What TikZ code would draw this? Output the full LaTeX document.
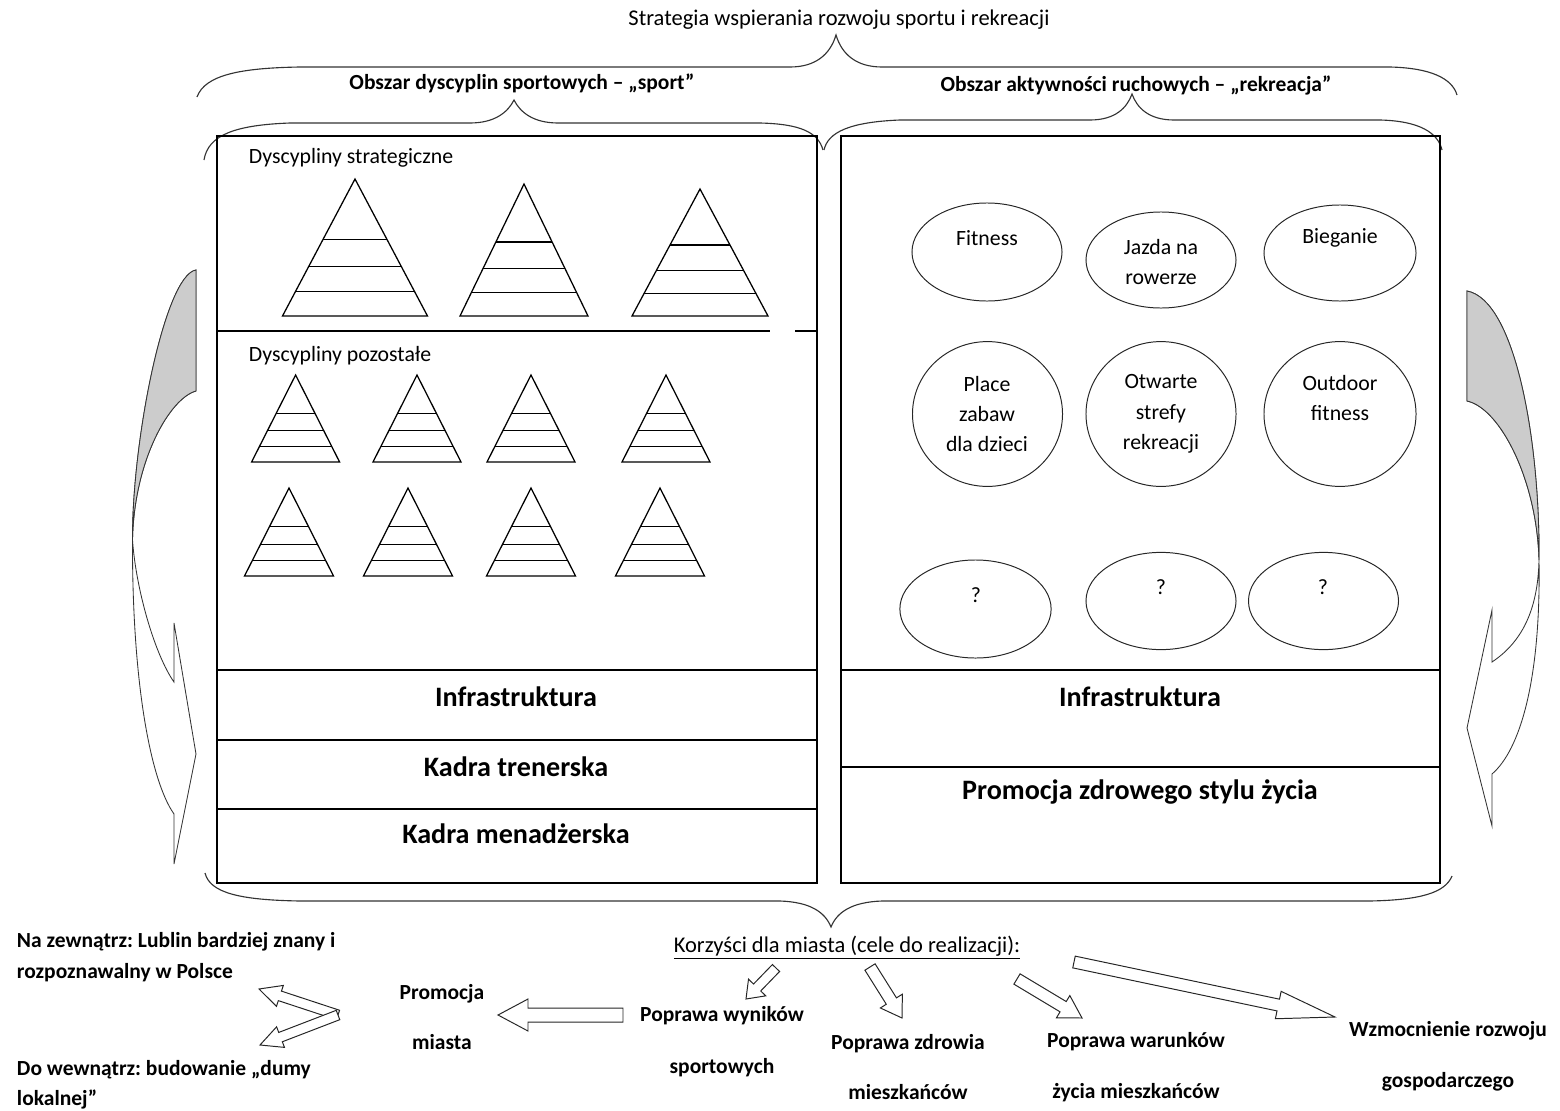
\documentclass[tikz,border=0pt]{standalone}
\usepackage{fontspec}
\setmainfont{Carlito}
\usetikzlibrary{shapes.geometric, calc}
\frenchspacing

\begin{document}
\begin{tikzpicture}[x=0.025cm, y=-0.025cm,
    boxline/.style={line width=1.2pt},
    pyr/.style={line width=0.9pt},
    oval/.style={ellipse, draw=black!85, line width=0.7pt, inner sep=0pt},
    curly/.style={draw=black!80, line width=0.8pt},
    bent/.style={draw=black!80, line width=0.6pt},
    blockarr/.style={draw=black!85, fill=white, line width=0.7pt},
    txt/.style={font=\fontsize{15.5}{21.5}\selectfont, align=center},
    hdtext/.style={font=\bfseries\fontsize{15.3}{18}\selectfont},
    bigtext/.style={font=\bfseries\fontsize{20}{24}\selectfont},
    goal/.style={font=\bfseries\fontsize{15.3}{18}\selectfont, align=center}]

    \useasboundingbox (0,0) rectangle (1560,1111);
    \def\pxl{0.025cm}

    \def\pyramid#1#2#3#4{%
      \draw[pyr] (#1,#2) -- (#1-#3,#2+#4) -- (#1+#3,#2+#4) -- cycle;
      \foreach \f in {0.44,0.64,0.82}
        \draw[pyr] (#1-\f*#3,#2+\f*#4) -- (#1+\f*#3,#2+\f*#4);
    }

    \def\blockarrow#1#2#3#4#5{%
      \coordinate (h) at ($(#2)!#5!(#1)$);
      \draw[blockarr] ($(#1)!#3!90:(#2)$) -- ($(h)!#3!90:(#2)$)
        -- ($(h)!#4!90:(#2)$) -- (#2) -- ($(h)!#4!-90:(#2)$)
        -- ($(h)!#3!-90:(#2)$) -- ($(#1)!#3!-90:(#2)$) -- cycle;
    }

    % headings and braces
    \node[txt, font=\fontsize{16}{19}\selectfont] (title) at (839,20)
      {Strategia wspierania rozwoju sportu i rekreacji};

    \node[hdtext] (sport) at (522,83) {Obszar dyscyplin sportowych – „sport”};

    \node[hdtext] (rekr) at (1136,85) {Obszar aktywności ruchowych – „rekreacja”};

    \draw[curly] (197,97) .. controls (205,75) and (240,68) .. (300,67)
      -- (790,67) .. controls (815,67) and (830,55) .. (836,35)
      .. controls (842,55) and (857,67) .. (882,67) -- (1390,67)
      .. controls (1430,68) and (1452,78) .. (1457,95);

    \draw[curly] (204,160) .. controls (208,135) and (235,125) .. (290,123)
      -- (470,123) .. controls (495,123) and (508,112) .. (514,100)
      .. controls (520,112) and (533,123) .. (558,123) -- (760,123)
      .. controls (800,124) and (818,132) .. (823,150);

    \draw[curly] (824,150) .. controls (828,132) and (850,122) .. (900,120)
      -- (1090,120) .. controls (1115,120) and (1127,108) .. (1132,94)
      .. controls (1137,108) and (1149,120) .. (1174,120) -- (1380,120)
      .. controls (1420,121) and (1438,133) .. (1442,150);

    % the two boxes
    \draw[boxline] (217,136) rectangle (817,883);
    \draw[boxline] (841,136) rectangle (1440,883);
    \draw[boxline] (217,670) -- (817,670) (217,740) -- (817,740) (217,809) -- (817,809);
    \draw[boxline] (841,670) -- (1440,670) (841,767) -- (1440,767);
    \draw[line width=1pt] (217,331) -- (770,331) (795,331) -- (817,331);

    \node[txt, anchor=west] (strat) at (244,158) {Dyscypliny strategiczne};

    \node[txt, anchor=west] (other) at (244,356) {Dyscypliny pozostałe};

    \pyramid{355}{179}{72.5}{137}
    \pyramid{524}{184}{64}{132}
    \pyramid{700}{189}{68}{127}
    \foreach \xa in {295.6,417,531,666} {\pyramid{\xa}{375}{44}{87}}
    \foreach \xa in {289,408,531,660} {\pyramid{\xa}{488}{44.5}{88}}

    \node[bigtext] (infra) at (516,697) {Infrastruktura};
    \node[bigtext] (coach) at (516,767) {Kadra trenerska};
    \node[bigtext] (mgmt) at (516,834) {Kadra menadżerska};
    \node[bigtext] (infrb) at (1140,697) {Infrastruktura};
    \node[bigtext] (health) at (1140,792) {Promocja zdrowego stylu życia};

    % recreation ovals
    \node[oval, minimum width=3.75cm, minimum height=2.45cm] (fitness) at (987,252) {};
    \node[oval, minimum width=3.75cm, minimum height=2.4cm] (bike) at (1161,260) {};
    \node[oval, minimum width=3.8cm, minimum height=2.4cm] (run) at (1340,253) {};
    \node[oval, minimum width=3.75cm, minimum height=3.62cm] (play) at (987.5,414) {};
    \node[oval, minimum width=3.75cm, minimum height=3.62cm] (open) at (1161,414) {};
    \node[oval, minimum width=3.8cm, minimum height=3.62cm] (outdoor) at (1340,414) {};
    \node[oval, minimum width=3.78cm, minimum height=2.45cm] (qa) at (975.5,609) {};
    \node[oval, minimum width=3.75cm, minimum height=2.43cm] (qb) at (1161,601) {};
    \node[oval, minimum width=3.75cm, minimum height=2.43cm] (qc) at (1323.5,601) {};

    \node[txt] at (987,238) {Fitness};
    \node[txt] at (1161,262) {Jazda na\\rowerze};
    \node[txt] at (1340,238) {Bieganie};
    \node[txt] at (987,414) {Place\\zabaw\\dla dzieci};
    \node[txt] at (1161,414) {Otwarte\\strefy\\rekreacji};
    \node[txt] at (1340,398) {Outdoor\\fitness};
    \node[txt] at (976,595) {?};
    \node[txt] at (1161,587) {?};
    \node[txt] at (1323,587) {?};

    % loop arrows on the sides
    \filldraw[bent, fill=white] (196,270) -- (196,391)
      .. controls (170,398) and (134,460) .. (132.5,540)
      .. controls (136,590) and (155,655) .. (174,682) -- (174,623)
      -- (196,754) -- (174,864) -- (174,814)
      .. controls (150,780) and (132,680) .. (132.5,540)
      .. controls (132,440) and (165,275) .. (196,270) -- cycle;
    \filldraw[bent, fill=gray!40] (196,270) .. controls (165,275) and (132,440) .. (132.5,540)
      .. controls (134,460) and (170,398) .. (196,391) -- cycle;

    \filldraw[bent, fill=white] (1467,291) -- (1467,401)
      .. controls (1500,408) and (1537,480) .. (1539,560)
      .. controls (1538,605) and (1525,640) .. (1492,662) -- (1492,610)
      -- (1467,728) -- (1492,826) -- (1492,774)
      .. controls (1520,750) and (1541,680) .. (1539,560)
      .. controls (1540,440) and (1515,300) .. (1467,291) -- cycle;
    \filldraw[bent, fill=gray!40] (1467,291) .. controls (1515,300) and (1540,440) .. (1539,560)
      .. controls (1537,480) and (1500,408) .. (1467,401) -- cycle;

    \draw[curly] (205,873) .. controls (210,893) and (240,900) .. (300,901)
      -- (780,901) .. controls (810,902) and (825,912) .. (831,927)
      .. controls (837,912) and (852,902) .. (882,901) -- (1370,901)
      .. controls (1420,900) and (1445,893) .. (1452,876);

    % benefits
    \node[txt, font=\fontsize{16}{19}\selectfont] (gain) at (847,948)
      {\underline{Korzyści dla miasta (cele do realizacji):}};

    \node[goal, align=left, anchor=west] (outside) at (12,957)
      {Na zewnątrz: Lublin bardziej znany i\\[4pt]rozpoznawalny w Polsce};

    \node[goal, align=left, anchor=west] (inside) at (12,1085)
      {Do wewnątrz: budowanie „dumy\\[3pt]lokalnej”};

    \node[goal] (promo) at (442,1017) {Promocja\\[17pt]miasta};
    \node[goal] (results) at (722,1042) {Poprawa wyników\\[19pt]sportowych};
    \node[goal] (cure) at (908,1067) {Poprawa zdrowia\\[18pt]mieszkańców};
    \node[goal] (living) at (1136,1067) {Poprawa warunków\\[18pt]życia mieszkańców};
    \node[goal] (economy) at (1448,1056) {Wzmocnienie rozwoju\\[18pt]gospodarczego};

    \coordinate (a1s) at (776,968);
    \coordinate (a1e) at (746,999);
    \coordinate (a2s) at (623,1015);
    \coordinate (a2e) at (498,1015);
    \coordinate (a3) at (338,1015);
    \coordinate (a3u) at (259,989);
    \coordinate (a3d) at (260,1045);
    \coordinate (a4s) at (870,967);
    \coordinate (a4e) at (902,1018);
    \coordinate (a5s) at (1017,979);
    \coordinate (a5e) at (1082,1018);
    \coordinate (a6s) at (1074,962);
    \coordinate (a6e) at (1335,1017);

    \blockarrow{a1s}{a1e}{5*\pxl}{12*\pxl}{16*\pxl}
    \blockarrow{a2s}{a2e}{7*\pxl}{16*\pxl}{30*\pxl}
    \blockarrow{a3}{a3u}{5*\pxl}{11*\pxl}{22*\pxl}
    \blockarrow{a3}{a3d}{5*\pxl}{11*\pxl}{22*\pxl}
    \blockarrow{a4s}{a4e}{6*\pxl}{13*\pxl}{20*\pxl}
    \blockarrow{a5s}{a5e}{6*\pxl}{13*\pxl}{22*\pxl}
    \blockarrow{a6s}{a6e}{6*\pxl}{14*\pxl}{58*\pxl}

  \end{tikzpicture}
\end{document}
